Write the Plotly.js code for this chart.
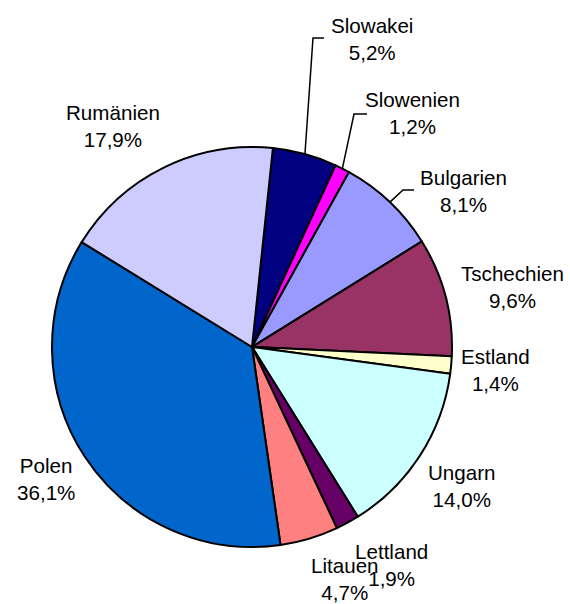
<!DOCTYPE html>
<html>
<head>
<meta charset="utf-8">
<script src="https://cdn.plot.ly/plotly-3.0.1.min.js"></script>
<style>html,body{margin:0;padding:0;background:#fff;}#chart{width:570px;height:604px;}</style>
</head>
<body>
<div id="chart"></div>
<script>
const countries = ['Slowakei','Slowenien','Bulgarien','Tschechien','Estland','Ungarn','Lettland','Litauen','Polen','Rumänien'];
const shares = [5.2, 1.2, 8.1, 9.6, 1.4, 14.0, 1.9, 4.7, 36.1, 17.9];
const shareLabels = ['5,2%','1,2%','8,1%','9,6%','1,4%','14,0%','1,9%','4,7%','36,1%','17,9%'];
const sliceColors = ['#000080','#FF00FF','#9999FF','#993366','#FFFFCC','#CCFFFF','#660066','#FF8080','#0066CC','#CCCCFF'];

// layout geometry (pixels)
const W = 570, H = 604;
const CX = 252, CY = 347, R = 200;
const ROT = 6;
const labelPos = [[372,39],[412,113],[463,191],[512,287],[495,370],[462,486],[391,565],[345,579],[46,479],[113,126]];
// leader lines: [elbowX, elbowY, endX] for labels that have one
const leaders = {0:[313,38,324], 1:[354,114,367], 2:[403,190,414]};

const font = {family: 'Liberation Sans, Arial, sans-serif', size: 20.6, color: '#000'};

const total = shares.reduce((a,b)=>a+b,0);
let cum = 0;
const shapes = [];
const annotations = [];
shares.forEach((v,i)=>{
  const mid = (ROT + (cum + v/2)/total*360) * Math.PI/180;
  cum += v;
  const ex = CX + R*Math.sin(mid), ey = CY - R*Math.cos(mid);
  if (leaders[i]) {
    const [bx,by,tx] = leaders[i];
    shapes.push({type:'path', xref:'x', yref:'y',
      path:`M${ex},${ey} L${bx},${by} L${tx},${by}`,
      line:{color:'#000', width:1.5}});
  }
  annotations.push({xref:'x', yref:'y', x:labelPos[i][0], y:labelPos[i][1],
    text: countries[i] + '<br>' + shareLabels[i], showarrow:false,
    xanchor:'center', yanchor:'middle', align:'center', font: font});
});

const trace = {
  type:'pie', values: shares, labels: countries, sort:false, direction:'clockwise',
  rotation: ROT, textinfo:'none', hoverinfo:'skip',
  marker:{colors: sliceColors, line:{color:'#000', width:2}},
  domain:{x:[(CX-R)/W,(CX+R)/W], y:[(H-CY-R)/H,(H-CY+R)/H]},
  showlegend:false
};

const layout = {
  width: W, height: H, margin:{l:0,r:0,t:0,b:0},
  paper_bgcolor:'#fff', plot_bgcolor:'rgba(0,0,0,0)',
  xaxis:{range:[0,W], visible:false, fixedrange:true},
  yaxis:{range:[H,0], visible:false, fixedrange:true},
  shapes: shapes, annotations: annotations, showlegend:false
};

Plotly.newPlot('chart', [trace], layout, {staticPlot:true});
</script>
</body>
</html>
